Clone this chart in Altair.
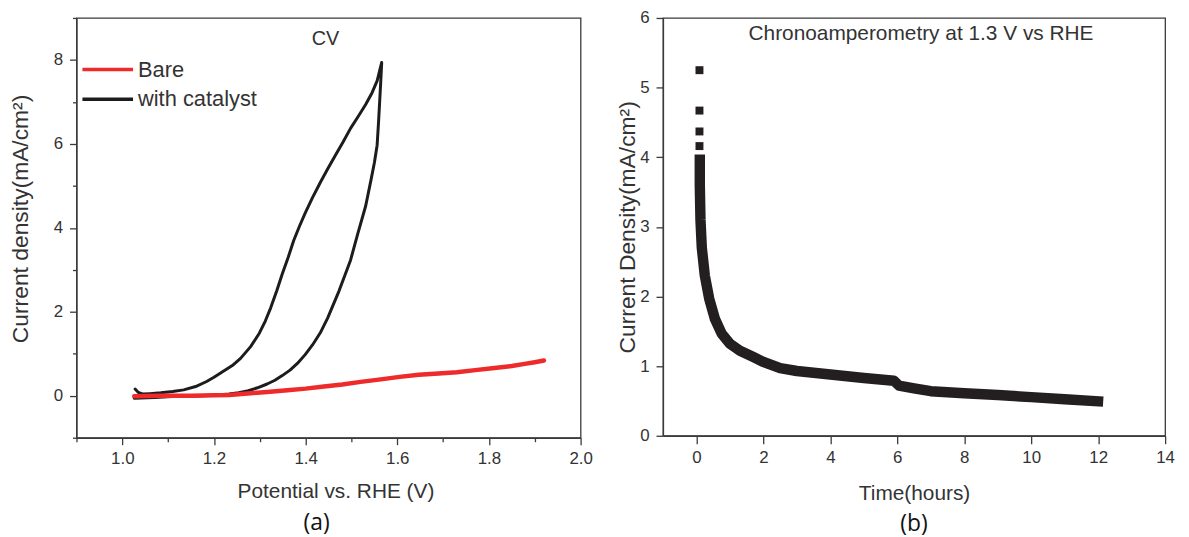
import altair as alt
import pandas as pd

# ---------------- data ----------------
# (a) CV, with catalyst: one closed loop, in scan order
cat_v = [1.028, 1.035, 1.045, 1.06, 1.084, 1.11, 1.134, 1.16, 1.184, 1.20, 1.217, 1.24,
         1.258, 1.28, 1.299, 1.312, 1.324, 1.337, 1.349, 1.362, 1.374, 1.387, 1.399,
         1.415, 1.432, 1.448, 1.465, 1.482, 1.498, 1.515, 1.531, 1.545, 1.556, 1.566,
         1.564, 1.562, 1.559, 1.556, 1.55, 1.543, 1.531, 1.514, 1.498, 1.473, 1.448,
         1.432, 1.415, 1.399, 1.382, 1.366, 1.349, 1.333, 1.316, 1.295, 1.275, 1.254,
         1.233, 1.2, 1.175, 1.14, 1.109, 1.07, 1.026]
cat_j = [0.16, 0.08, 0.04, 0.05, 0.07, 0.10, 0.14, 0.22, 0.34, 0.44, 0.56, 0.72,
         0.89, 1.17, 1.49, 1.78, 2.1, 2.5, 2.9, 3.3, 3.7, 4.05, 4.35,
         4.72, 5.08, 5.4, 5.73, 6.05, 6.37, 6.66, 6.94, 7.22, 7.5, 7.94,
         7.5, 7.1, 6.5, 5.97, 5.55, 5.16, 4.52, 3.87, 3.23, 2.5, 1.85,
         1.5, 1.21, 0.98, 0.77, 0.61, 0.48, 0.37, 0.28, 0.19, 0.12, 0.07,
         0.04, 0.01, 0.0, -0.01, -0.02, -0.04, -0.06]

# (a) CV, bare electrode
bare_v = [1.026, 1.08, 1.15, 1.2, 1.233, 1.28, 1.316, 1.36, 1.4, 1.44, 1.48, 1.52,
          1.564, 1.605, 1.647, 1.69, 1.73, 1.77, 1.812, 1.85, 1.878, 1.90, 1.92]
bare_j = [-0.01, 0.0, 0.0, 0.01, 0.02, 0.06, 0.09, 0.13, 0.17, 0.22, 0.27, 0.33,
          0.39, 0.45, 0.50, 0.53, 0.56, 0.61, 0.66, 0.71, 0.76, 0.80, 0.84]

# (b) chronoamperometry
ca_t = [0.10, 0.10, 0.12, 0.16, 0.25, 0.38, 0.55, 0.75, 1.0, 1.3, 1.7, 2.0, 2.5,
        3.0, 4.0, 5.0, 5.9, 6.05, 6.5, 7.0, 8.0, 9.0, 10.0, 11.0, 12.15]
ca_j = [4.04, 3.6, 3.1, 2.7, 2.3, 1.97, 1.68, 1.47, 1.32, 1.22, 1.13, 1.06, 0.97,
        0.93, 0.88, 0.83, 0.79, 0.72, 0.68, 0.64, 0.61, 0.585, 0.555, 0.525, 0.49]
spike_t = [0.09, 0.09, 0.09, 0.09]
spike_j = [5.25, 4.67, 4.37, 4.16]

series_names = ["Bare", "with catalyst"]
series_colors = ["#ee2a2a", "#1c1c1c"]

x_ticks_a = [0.9, 1.0, 1.1, 1.2, 1.3, 1.4, 1.5, 1.6, 1.7, 1.8, 1.9, 2.0]
y_ticks_a = [-1, 0, 1, 2, 3, 4, 5, 6, 7, 8, 9]
x_ticks_b = [0, 2, 4, 6, 8, 10, 12, 14]
y_ticks_b = [0, 1, 2, 3, 4, 5, 6]

# ---------------- styling ----------------
FONT = "Liberation Sans"
TXT = "#333333"
FRAME = "#3a3a3a"
INK = "#231f20"

cat_df = pd.DataFrame({"v": cat_v, "j": cat_j, "series": series_names[1],
                       "i": list(range(len(cat_v)))})
bare_df = pd.DataFrame({"v": bare_v, "j": bare_j, "series": series_names[0],
                        "i": list(range(len(bare_v)))})
ca_df = pd.DataFrame({"t": ca_t, "j": ca_j, "i": list(range(len(ca_t)))})
spike_df = pd.DataFrame({"t": spike_t, "j": spike_j})

even_tenth = "abs(datum.value*10 - 2*round(datum.value*5)) < 0.01"
even_int = "datum.value % 2 == 0"

xa = alt.X("v:Q", scale=alt.Scale(domain=[0.9, 2.0], nice=False, zero=False),
           axis=alt.Axis(values=x_ticks_a, title="Potential vs. RHE (V)",
                         labelExpr=f"{even_tenth} ? format(datum.value, '.1f') : ''",
                         tickSize={"condition": {"test": even_tenth, "value": 7}, "value": 4},
                         labelPadding=6, titlePadding=14, titleX=261,
                         labelFlush=False, labelOverlap=False))
ya = alt.Y("j:Q", scale=alt.Scale(domain=[-1, 9], nice=False, zero=False),
           axis=alt.Axis(values=y_ticks_a, title="Current density(mA/cm\u00b2)",
                         labelExpr=f"{even_int} ? datum.label : ''",
                         tickSize={"condition": {"test": even_int, "value": 7}, "value": 4},
                         labelPadding=7, titlePadding=21, titleFontSize=23, titleY=202,
                         labelFlush=False, labelOverlap=False))
color = alt.Color("series:N", scale=alt.Scale(domain=series_names, range=series_colors),
                  legend=None)

bare_line = alt.Chart(bare_df).mark_line(strokeWidth=4.5, strokeCap="round").encode(
    x=xa, y=ya, color=color, order="i:Q")
cat_line = alt.Chart(cat_df).mark_line(strokeWidth=3, strokeJoin="round", strokeCap="round").encode(
    x=xa, y=ya, color=color, order="i:Q")
cv_text = alt.Chart(pd.DataFrame({"s": ["CV"]})).mark_text(
    font=FONT, fontSize=20, color=TXT, align="center", baseline="middle").encode(
    text="s:N", x=alt.value(251), y=alt.value(21))

# hand-made legend (line sample + label), coloured through the same scale
legend_layers = []
for k, name in enumerate(series_names):
    ldf = pd.DataFrame({"series": [name]})
    legend_layers.append(
        alt.Chart(ldf).mark_rule(strokeWidth=3.5).encode(
            x=alt.value(6), x2=alt.value(57), y=alt.value(52 + 30 * k), color=color))
    legend_layers.append(
        alt.Chart(ldf).mark_text(font=FONT, fontSize=22, color=TXT, align="left",
                                 baseline="middle").encode(
            text="series:N", x=alt.value(62), y=alt.value(52 + 30 * k)))

left = alt.layer(cat_line, bare_line, cv_text, *legend_layers).properties(
    width=508, height=423,
    title=alt.TitleParams("(a)", orient="bottom", font="Open Sans", fontSize=23,
                          fontWeight="normal", color="#111111", dx=-12, offset=11))

xb = alt.X("t:Q", scale=alt.Scale(domain=[-1, 14], nice=False, zero=False),
           axis=alt.Axis(values=x_ticks_b, title="Time(hours)", tickSize=8,
                         labelPadding=6, titlePadding=17, labelFlush=False))
yb = alt.Y("j:Q", scale=alt.Scale(domain=[0, 6], nice=False, zero=False),
           axis=alt.Axis(values=y_ticks_b, title="Current Density(mA/cm\u00b2)", tickSize=7,
                         labelPadding=7, titlePadding=0, titleFontSize=23, labelFlush=False))

ca_line = alt.Chart(ca_df).mark_line(strokeWidth=10.5, color=INK, strokeJoin="round").encode(
    x=xb, y=yb, order="i:Q")
spikes = alt.Chart(spike_df).mark_square(size=64, color=INK, opacity=1).encode(x=xb, y=yb)
ca_text = alt.Chart(pd.DataFrame({"s": ["Chronoamperometry at 1.3 V vs RHE"]})).mark_text(
    font=FONT, fontSize=21, color=TXT, align="center", baseline="middle").encode(
    text="s:N", x=alt.value(260), y=alt.value(16))

right = alt.layer(ca_line, spikes, ca_text).properties(
    width=506, height=421,
    title=alt.TitleParams("(b)", orient="bottom", font="Open Sans", fontSize=23,
                          fontWeight="normal", color="#111111", offset=10))

chart = alt.hconcat(left, right, spacing=83, bounds="flush").properties(
    padding={"left": 0, "top": -2, "right": 5, "bottom": 0},
    background="white"
).configure_view(stroke=FRAME, strokeWidth=1.3).configure_axis(
    grid=False, domainColor=FRAME, domainWidth=1.3, tickColor=FRAME, tickWidth=1.3,
    labelFont=FONT, labelFontSize=17, labelColor=TXT,
    titleFont=FONT, titleFontSize=21, titleColor=TXT, titleFontWeight="normal"
)

chart.save("out.html", embed_options={"renderer": "svg", "actions": False})
